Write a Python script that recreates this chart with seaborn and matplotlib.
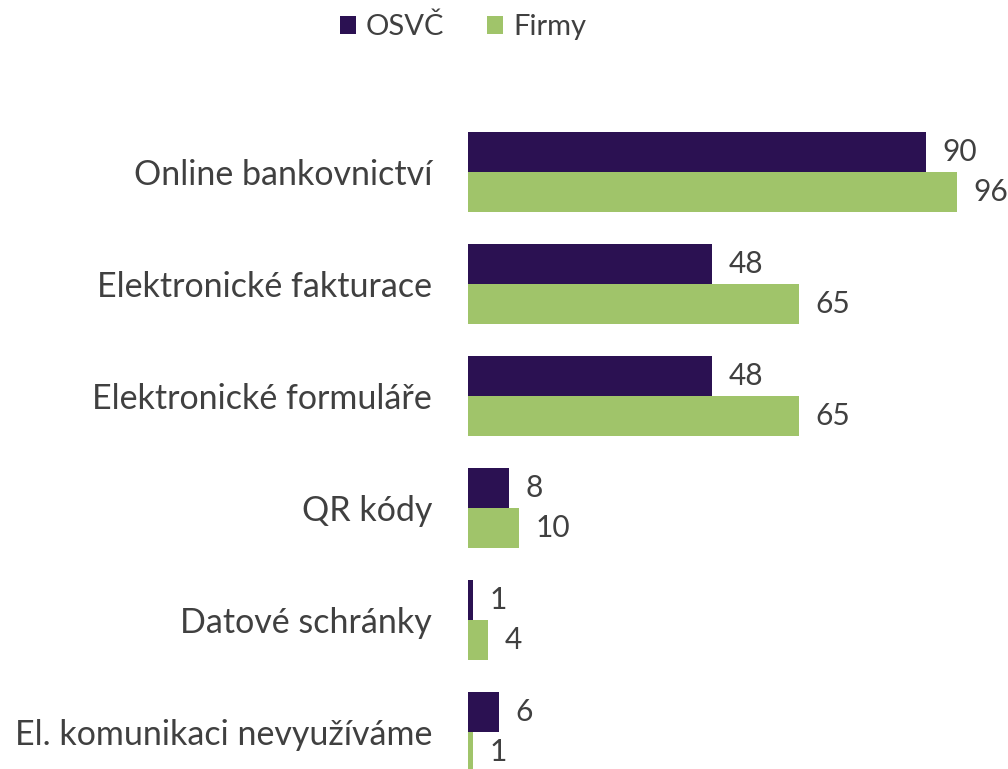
import matplotlib
matplotlib.use("Agg")
import matplotlib.pyplot as plt
import seaborn as sns
import pandas as pd
from matplotlib.patches import Patch

categories = ["Online bankovnictví", "Elektronické fakturace", "Elektronické formuláře",
              "QR kódy", "Datové schránky", "El. komunikaci nevyužíváme"]
series_names = ["OSVČ", "Firmy"]
osvc = [90, 48, 48, 8, 1, 6]
firmy = [96, 65, 65, 10, 4, 1]
colors = ["#2B1152", "#A0C46A"]

df = pd.DataFrame({
    "cat": categories * 2,
    "group": [series_names[0]] * len(categories) + [series_names[1]] * len(categories),
    "value": osvc + firmy,
})

sns.set_theme(style="white")
plt.rcParams['font.family'] = ['Lato', 'DejaVu Sans']
text_color = "#404040"

fig = plt.figure(figsize=(10.08, 7.69), dpi=100)
W, H = 1008, 769
ax_left, ax_right = 468 / W, 1.0
ax_top_px, ax_bot_px = 100, 769
ax = fig.add_axes([ax_left, 1 - ax_bot_px / H, ax_right - ax_left, (ax_bot_px - ax_top_px) / H])

sns.barplot(data=df, x="value", y="cat", hue="group", order=categories,
            hue_order=series_names, palette=colors, width=0.714, orient="h",
            ax=ax, legend=False, saturation=1, linewidth=0)

px_per_unit = 5.09
ax.set_xlim(0, (W - 468) / px_per_unit)
# category i center at pixel 172 + 112*i
def pix2unit(p):
    return (p - 172) / 112
ax.set_ylim(pix2unit(ax_bot_px), pix2unit(ax_top_px))

for container in ax.containers:
    ax.bar_label(container, padding=12, fontsize=21.5, color=text_color)

ax.set_xlabel("")
ax.set_ylabel("")
ax.set_xticks([])
ax.tick_params(axis="y", length=0, pad=26, labelsize=24.5, labelcolor=text_color)
for s in ax.spines.values():
    s.set_visible(False)

handles = [Patch(facecolor=c, edgecolor="none") for c in colors]
fig.legend(handles, series_names, loc="center", bbox_to_anchor=(463 / W, 1 - 27 / H),
           ncol=2, frameon=False, fontsize=21, labelcolor=text_color,
           handlelength=0.55, handleheight=0.55, handletextpad=0.35, columnspacing=1.45)

fig.savefig("out.png", dpi=100)
